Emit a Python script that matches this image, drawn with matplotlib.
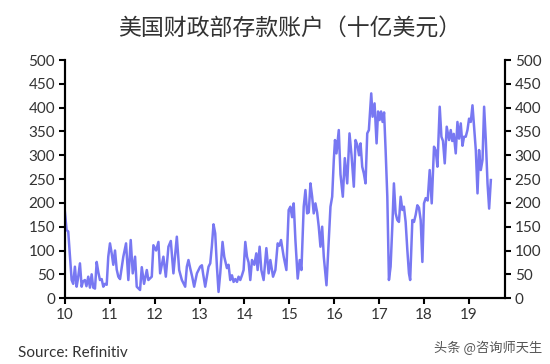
import numpy as np
import matplotlib
matplotlib.use('Agg')
import matplotlib.pyplot as plt

plt.rcParams['font.family'] = ['Lato', 'Noto Sans CJK SC', 'DejaVu Sans']

# 美国财政部存款账户（十亿美元），按读图估计
years = [
    2010.000, 2010.038, 2010.074, 2010.112, 2010.150, 2010.185, 2010.223, 2010.261, 2010.290, 2010.335,
    2010.373, 2010.402, 2010.446, 2010.480, 2010.520, 2010.558, 2010.596, 2010.632, 2010.670, 2010.708,
    2010.743, 2010.781, 2010.819, 2010.855, 2010.893, 2010.931, 2010.966, 2011.004, 2011.042, 2011.078,
    2011.116, 2011.154, 2011.190, 2011.228, 2011.301, 2011.362, 2011.413, 2011.466, 2011.511, 2011.563,
    2011.600, 2011.674, 2011.712, 2011.763, 2011.824, 2011.859, 2011.935, 2011.971, 2012.031, 2012.083,
    2012.121, 2012.194, 2012.248, 2012.306, 2012.359, 2012.417, 2012.493, 2012.545, 2012.605, 2012.679,
    2012.716, 2012.752, 2012.790, 2012.835, 2012.879, 2012.940, 2013.013, 2013.051, 2013.080, 2013.125,
    2013.199, 2013.237, 2013.274, 2013.310, 2013.348, 2013.386, 2013.422, 2013.460, 2013.511, 2013.549,
    2013.609, 2013.645, 2013.683, 2013.721, 2013.757, 2013.795, 2013.833, 2013.868, 2013.906, 2013.944,
    2013.980, 2014.018, 2014.056, 2014.091, 2014.129, 2014.167, 2014.219, 2014.263, 2014.292, 2014.337,
    2014.375, 2014.426, 2014.487, 2014.538, 2014.576, 2014.636, 2014.688, 2014.739, 2014.777, 2014.814,
    2014.873, 2014.933, 2014.984, 2015.022, 2015.060, 2015.096, 2015.134, 2015.185, 2015.230, 2015.268,
    2015.319, 2015.357, 2015.395, 2015.431, 2015.469, 2015.507, 2015.542, 2015.580, 2015.618, 2015.654,
    2015.692, 2015.730, 2015.766, 2015.826, 2015.877, 2015.915, 2015.953, 2015.989, 2016.016, 2016.049,
    2016.100, 2016.138, 2016.190, 2016.234, 2016.288, 2016.339, 2016.384, 2016.435, 2016.473, 2016.518,
    2016.551, 2016.585, 2016.622, 2016.658, 2016.696, 2016.734, 2016.770, 2016.823, 2016.853, 2016.897,
    2016.942, 2016.975, 2017.009, 2017.042, 2017.076, 2017.109, 2017.143, 2017.181, 2017.217, 2017.254,
    2017.292, 2017.328, 2017.366, 2017.404, 2017.440, 2017.478, 2017.516, 2017.551, 2017.589, 2017.627,
    2017.663, 2017.690, 2017.739, 2017.775, 2017.813, 2017.850, 2017.886, 2017.924, 2017.962, 2017.998,
    2018.036, 2018.080, 2018.125, 2018.170, 2018.221, 2018.259, 2018.297, 2018.348, 2018.386, 2018.421,
    2018.460, 2018.504, 2018.556, 2018.594, 2018.627, 2018.661, 2018.705, 2018.743, 2018.779, 2018.817,
    2018.855, 2018.890, 2018.928, 2018.966, 2019.002, 2019.040, 2019.078, 2019.114, 2019.152, 2019.190,
    2019.225, 2019.263, 2019.301, 2019.337, 2019.375, 2019.413, 2019.449, 2019.487,
]
balance = [
    181, 143, 140, 90, 38, 30, 66, 24, 40, 73,
    24, 35, 38, 25, 45, 22, 50, 22, 20, 76,
    55, 38, 40, 24, 30, 28, 87, 115, 94, 70,
    100, 60, 45, 40, 87, 115, 38, 122, 52, 87,
    24, 17, 65, 30, 59, 38, 45, 111, 100, 118,
    52, 87, 45, 108, 120, 52, 129, 59, 38, 24,
    66, 80, 63, 45, 24, 52, 66, 69, 50, 24,
    66, 73, 110, 155, 136, 66, 13, 52, 118, 87,
    63, 70, 38, 48, 34, 40, 34, 45, 38, 48,
    59, 118, 87, 75, 38, 80, 70, 94, 59, 108,
    59, 38, 105, 52, 80, 45, 59, 115, 110, 122,
    87, 59, 185, 192, 170, 199, 122, 41, 80, 59,
    192, 227, 178, 180, 241, 213, 178, 199, 180, 150,
    108, 150, 87, 27, 122, 192, 213, 290, 332, 304,
    353, 260, 213, 294, 241, 346, 300, 234, 332, 320,
    300, 325, 276, 262, 241, 346, 353, 430, 381, 409,
    325, 392, 374, 392, 370, 390, 311, 213, 38, 66,
    150, 241, 178, 164, 160, 213, 185, 192, 160, 101,
    52, 38, 164, 160, 175, 195, 190, 164, 76, 199,
    210, 205, 269, 199, 318, 310, 276, 402, 339, 330,
    283, 360, 332, 353, 330, 345, 304, 370, 335, 367,
    320, 339, 339, 353, 377, 370, 405, 360, 311, 220,
    311, 269, 290, 402, 332, 241, 188, 248,
]
tick_years = list(range(2010, 2020))
tick_labels = [str(y % 100) for y in tick_years]
y_ticks = list(range(0, 501, 50))

text_color = '#333333'
line_color = '#7878F2'

fig = plt.figure(figsize=(5.5, 3.64), dpi=100)
ax = fig.add_axes([0.118, 0.181, 0.800, 0.654])
ax.plot(years, balance, color=line_color, lw=1.8, solid_joinstyle='round')

ax.set_xlim(2010, 2019.8)
ax.set_ylim(0, 500)
ax.set_xticks(tick_years)
ax.set_xticklabels(tick_labels)
ax.set_yticks(y_ticks)

ax2 = ax.twinx()
ax2.set_ylim(0, 500)
ax2.set_yticks(y_ticks)

for a in (ax, ax2):
    a.spines['top'].set_visible(False)
    for s in ('left', 'right', 'bottom'):
        a.spines[s].set_linewidth(1.5)
        a.spines[s].set_color('black')
    a.tick_params(axis='both', direction='out', length=4, width=1.5,
                  labelsize=11, labelcolor=text_color, pad=3)

fig.text(0.527, 0.922, '美国财政部存款账户（十亿美元）', ha='center', va='center',
         fontsize=16.5, color=text_color, family=['Noto Sans CJK SC', 'DejaVu Sans'])
fig.text(0.033, 0.03, 'Source: Refinitiv', ha='left', va='center',
         fontsize=11, color=text_color)
fig.text(0.985, 0.045, '头条 @咨询师天生', ha='right', va='center',
         fontsize=9.5, color='#555555', family=['Noto Sans CJK SC', 'DejaVu Sans'])

fig.savefig('out.png', dpi=100)
